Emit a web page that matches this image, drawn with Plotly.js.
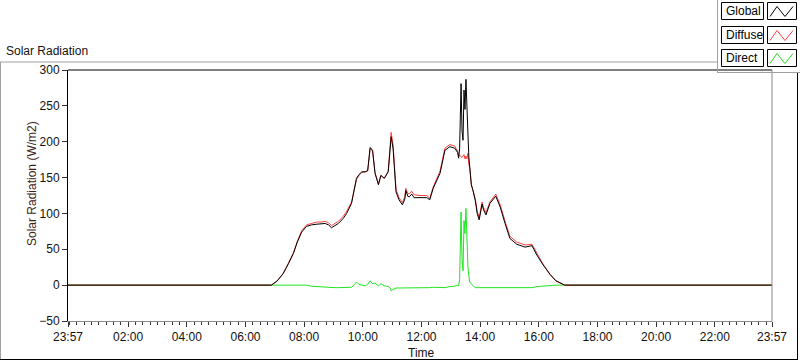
<!DOCTYPE html>
<html><head><meta charset="utf-8">
<script src="https://cdn.plot.ly/plotly-3.0.1.min.js"></script>
<style>html,body{margin:0;padding:0;background:#fff}#chart{width:800px;height:361px}</style>
</head><body><div id="chart"></div>
<script>
// first time belongs to the previous day
const times = ['23:57','06:00','06:53','07:05','07:17','07:28','07:38','07:46','07:55','08:05','08:15','08:26','08:36','08:43','08:50','08:56','09:03','09:10','09:20','09:27','09:37','09:44','09:47','09:52','09:58','10:05','10:10','10:15','10:20','10:25','10:32','10:37','10:44','10:52','10:56','10:58','11:02','11:08','11:14','11:21','11:26','11:28','11:32','11:35','11:40','11:45','11:57','12:11','12:17','12:24','12:38','12:48','12:58','13:08','13:14','13:16','13:18','13:19','13:21','13:23','13:25','13:27','13:29','13:31','13:33','13:35','13:37','13:39','13:42','13:45','13:50','13:54','13:58','14:04','14:07','14:12','14:20','14:32','14:41','14:51','15:01','15:15','15:32','15:46','15:56','16:09','16:23','16:35','16:53','23:57'];
const globalVals = [0,0,0,6,16,30,44,60,74,82,84,85,85,86,84,80,83,86,93,100,114,140,149,154,158,158,160,192,188,156,140,153,149,158,185,207,190,130,119,112,120,132,124,123,127,122,122,122,119,135,156,188,193,191,185,177,190,248,281,215,202,272,245,287,230,212,178,165,140,133,118,100,91,113,105,98,114,124,109,86,65,57,53,55,42,28,15,6,0,0];
const diffuseVals = [0,0,0,6,16,31,45,61,76,84,86,88,88,89,87,83,86,89,96,103,116,141,147,153,157,158,159,190,187,157,141,153,149,159,188,213,195,133,122,115,124,135,128,127,131,126,125,125,121,137,159,191,196,194,187,180,181,181,179,178,180,182,176,180,176,184,168,163,140,134,121,103,94,116,108,101,116,127,112,89,68,60,56,57,44,29,15,6,0,0];
const directVals = [0,0,0,0.5,1,1,1,1,1,0,-1.5,-2,-3,-3.5,-3.5,-3.5,-3.5,-3.5,-3.5,-3.5,-3,2,4.5,1,0,-1,1,6,2,3,-1,2,-1,-2,-4,-8,-6,-4,-4,-4,-4.5,-4.5,-4.5,-4.5,-4.5,-4.5,-4,-4,-3.5,-3,-3.5,-3.5,-2,-1.5,0,-1,8,67,102,37,20,90,72,107,53,26,12,4,1.5,-1,-3.5,-3.5,-3.5,-3.5,-3.5,-3.5,-3.5,-3.5,-3.5,-3.5,-3.5,-3.5,-3.5,-3.5,-2,-1,0,0,0,0];
const seriesNames = ['Direct','Diffuse','Global'];
const seriesColors = ['#1ee61e','#ff4040','#000000'];
const tickLabels = ['23:57','02:00','04:00','06:00','08:00','10:00','12:00','14:00','16:00','18:00','20:00','22:00','23:57'];
const yTicks = [-50,0,50,100,150,200,250,300];

function stamp(t, prev){ return (prev ? '2024-01-01 ' : '2024-01-02 ') + t; }
const xs = times.map((t,i)=>stamp(t, i===0));
const seriesVals = [directVals, diffuseVals, globalVals];

const traces = seriesVals.map((v,k)=>({
  x: xs, y: v, type:'scatter', mode:'lines', name: seriesNames[k],
  line:{color: seriesColors[k], width:1, shape:'linear'}, hoverinfo:'skip'
}));

const W=800,H=361,L=68,R=772,T=70,B=321;
function px(x){return (x-L)/(R-L);}
function py(y){return (B-y)/(B-T);}
const font = 'Liberation Sans, Arial, sans-serif';

const shapes = [
  // plot frame top (black) and right (gray)
  {type:'line',xref:'paper',yref:'paper',x0:0,x1:1,y0:1,y1:1,line:{color:'#000',width:1}},
  {type:'line',xref:'paper',yref:'paper',x0:1,x1:1,y0:0,y1:1,line:{color:'#8a8a8a',width:1}},
  // outer graph frame
  {type:'line',xref:'paper',yref:'paper',x0:px(0),x1:px(717),y0:py(62),y1:py(62),line:{color:'#a0a0a0',width:1}},
  {type:'line',xref:'paper',yref:'paper',x0:px(0.5),x1:px(0.5),y0:py(62),y1:py(359),line:{color:'#a0a0a0',width:1}},
  {type:'line',xref:'paper',yref:'paper',x0:px(0),x1:px(798),y0:py(359.5),y1:py(359.5),line:{color:'#000',width:1}},
  {type:'line',xref:'paper',yref:'paper',x0:px(797.5),x1:px(797.5),y0:py(73),y1:py(360),line:{color:'#000',width:1}},
  // legend panel
  {type:'line',xref:'paper',yref:'paper',x0:px(717.5),x1:px(717.5),y0:py(0),y1:py(73),line:{color:'#a0a0a0',width:1}},
  {type:'line',xref:'paper',yref:'paper',x0:px(717),x1:px(800),y0:py(72.5),y1:py(72.5),line:{color:'#a0a0a0',width:1}}
];
const annotations = [
  {xref:'paper',yref:'paper',x:px(4),y:py(51),text:'Solar Radiation',showarrow:false,xanchor:'left',yanchor:'middle',font:{family:font,size:12,color:'#111'}},
  {xref:'paper',yref:'paper',x:px(421),y:py(353),text:'Time',showarrow:false,xanchor:'center',yanchor:'middle',font:{family:font,size:12,color:'#111'}},
  {xref:'paper',yref:'paper',x:px(32),y:py(184),text:'Solar Radiation (W/m2)',textangle:-90,showarrow:false,xanchor:'center',yanchor:'middle',font:{family:font,size:12,color:'#3a2418'}}
];
const legendOrder = [2,1,0];
const rowTops = [2.5,26.5,49.5];
legendOrder.forEach((k,r)=>{
  const t=rowTops[r], b=t+17;
  shapes.push({type:'rect',xref:'paper',yref:'paper',x0:px(721.5),x1:px(763.5),y0:py(b),y1:py(t),line:{color:'#000',width:1},fillcolor:'#fff'});
  shapes.push({type:'rect',xref:'paper',yref:'paper',x0:px(767.5),x1:px(796.5),y0:py(b),y1:py(t),line:{color:'#000',width:1},fillcolor:'#fff'});
  const pts=[[770,t+14],[777,t+4],[785,t+14],[793,t+4]];
  shapes.push({type:'path',xref:'paper',yref:'paper',path:'M'+pts.map(p=>px(p[0])+','+py(p[1])).join(' L'),line:{color:seriesColors[k],width:1}});
  annotations.push({xref:'paper',yref:'paper',x:px(724),y:py(t+8.5),text:seriesNames[k],showarrow:false,xanchor:'left',yanchor:'middle',font:{family:font,size:12,color:'#000'}});
});

const layout = {
  width:W,height:H,margin:{l:L,r:W-R,t:T,b:H-B,pad:0},
  paper_bgcolor:'#fff',plot_bgcolor:'#fff',showlegend:false,
  font:{family:font,size:12,color:'#111'},
  xaxis:{type:'date',range:[stamp('23:57',true),stamp('23:57',false)],tickmode:'array',
    tickvals:tickLabels.map((t,i)=>stamp(t,i===0)),ticktext:tickLabels,
    ticks:'outside',ticklen:5,tickcolor:'#333',tickwidth:1,showline:true,linecolor:'#8a8a8a',linewidth:1,
    showgrid:false,zeroline:false,tickfont:{family:font,size:12,color:'#111'},
    minor:{tickmode:'linear',tick0:stamp('00:00',false),dtick:900000,ticks:'outside',ticklen:3,tickcolor:'#333',showgrid:false}},
  yaxis:{range:[-50,300],tickmode:'array',tickvals:yTicks,ticks:'outside',ticklen:5,tickcolor:'#333',
    showline:true,linecolor:'#000',linewidth:1,showgrid:false,zeroline:false,tickfont:{family:font,size:12,color:'#111'}},
  shapes:shapes,annotations:annotations
};
Plotly.newPlot('chart',traces,layout,{staticPlot:true,displayModeBar:false});
</script></body></html>
